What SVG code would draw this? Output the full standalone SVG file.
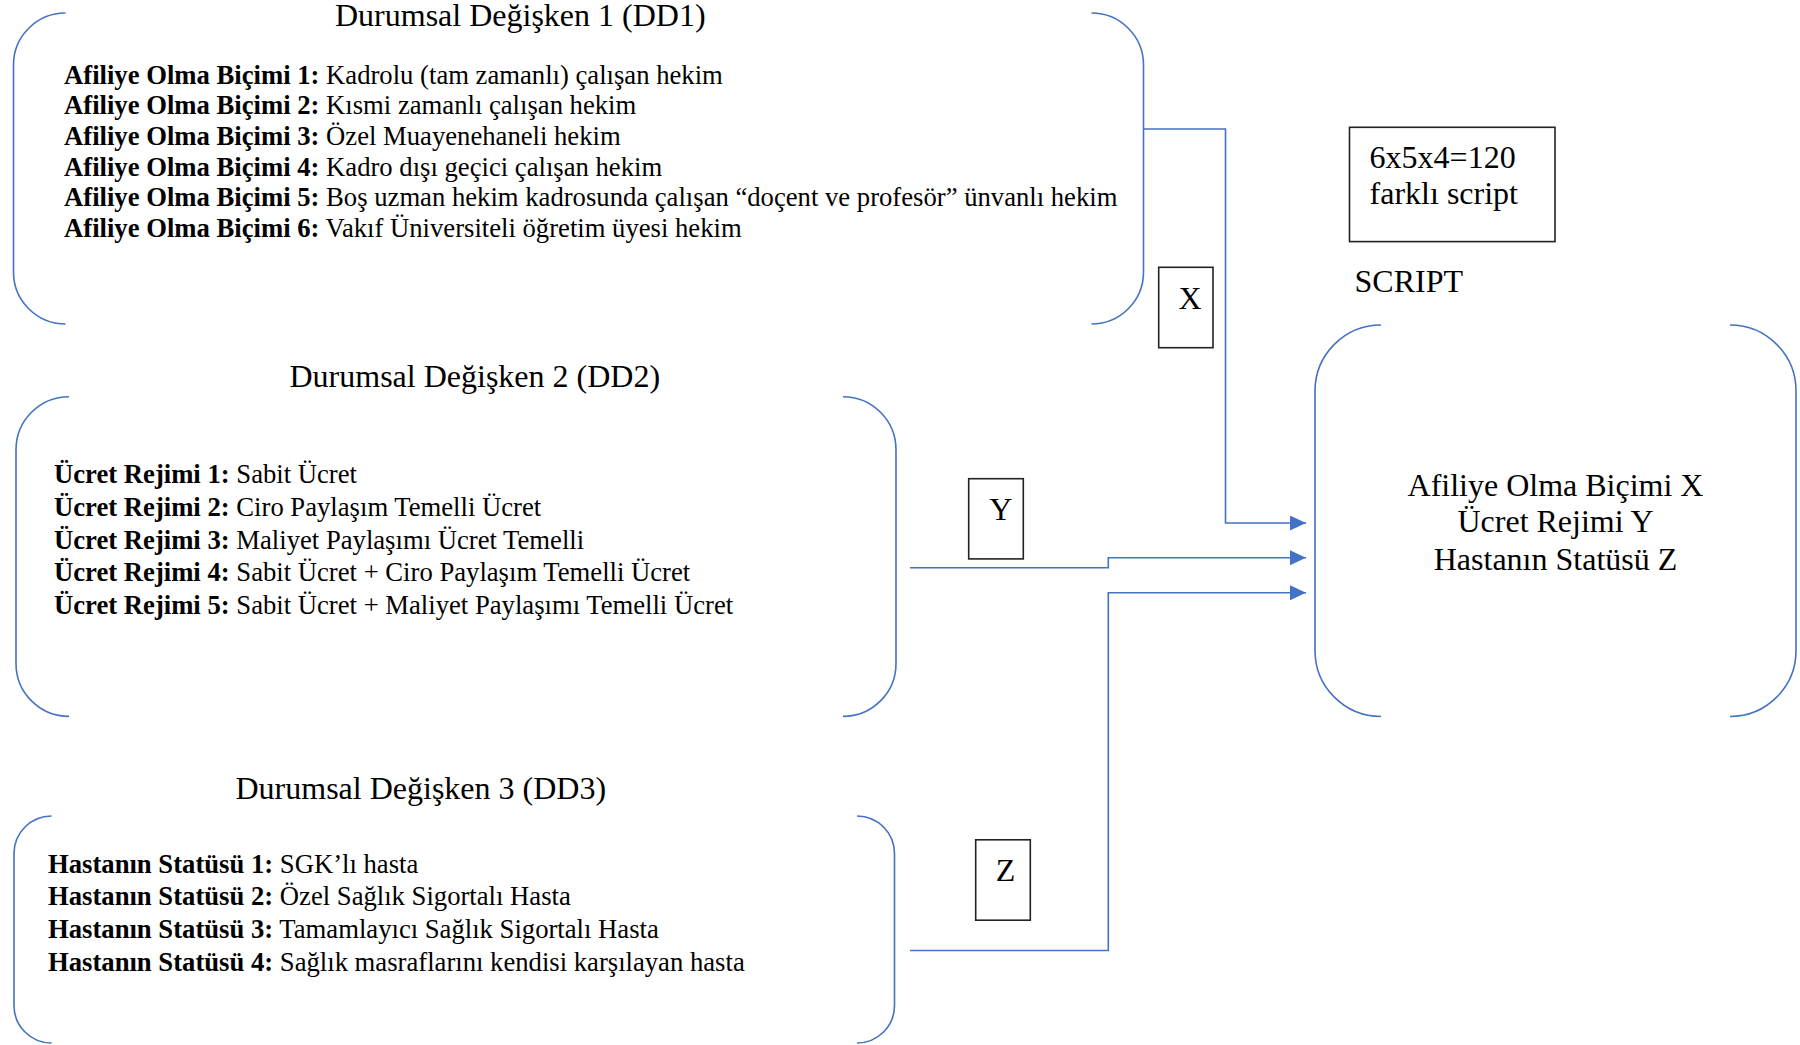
<svg xmlns="http://www.w3.org/2000/svg" width="1800" height="1045" viewBox="0 0 1800 1045">
<style>
.br{fill:none;stroke:#4472C4;stroke-width:1.6}
.con{fill:none;stroke:#4472C4;stroke-width:1.6}
.box{fill:#fff;stroke:#222;stroke-width:1.6}
.t{font-family:"Liberation Serif","Times New Roman",serif;fill:#000}
.big{font-size:32px}
.lst{font-size:26.67px}
.b{font-weight:bold}
</style>
<defs>
<marker id="arr" markerUnits="userSpaceOnUse" markerWidth="18" markerHeight="16" refX="16" refY="7.5" orient="auto">
<path d="M0,0 L16,7.5 L0,15 Z" fill="#4472C4"/>
</marker>
</defs>
<rect width="1800" height="1045" fill="#fff"/>

<g id="dd1">
<path class="br" d="M65.5,13 A52,52 0 0 0 13.5,65 V272 A52,52 0 0 0 65.5,324"/>
<path class="br" d="M1091.5,13 A52,52 0 0 1 1143.5,65 V272 A52,52 0 0 1 1091.5,324"/>
<text class="t big" x="335" y="26">Durumsal Değişken 1 (DD1)</text>
<text class="t lst" x="64" y="83.5"><tspan class="b">Afiliye Olma Biçimi 1:</tspan> Kadrolu (tam zamanlı) çalışan hekim</text>
<text class="t lst" x="64" y="114.2"><tspan class="b">Afiliye Olma Biçimi 2:</tspan> Kısmi zamanlı çalışan hekim</text>
<text class="t lst" x="64" y="144.9"><tspan class="b">Afiliye Olma Biçimi 3:</tspan> Özel Muayenehaneli hekim</text>
<text class="t lst" x="64" y="175.6"><tspan class="b">Afiliye Olma Biçimi 4:</tspan> Kadro dışı geçici çalışan hekim</text>
<text class="t lst" x="64" y="206.3"><tspan class="b">Afiliye Olma Biçimi 5:</tspan> Boş uzman hekim kadrosunda çalışan “doçent ve profesör” ünvanlı hekim</text>
<text class="t lst" x="64" y="237"><tspan class="b">Afiliye Olma Biçimi 6:</tspan> Vakıf Üniversiteli öğretim üyesi hekim</text>
</g>

<g id="dd2">
<path class="br" d="M69,396.7 A53,53 0 0 0 16,449.7 V663.4 A53,53 0 0 0 69,716.4"/>
<path class="br" d="M843,396.7 A53,53 0 0 1 896,449.7 V663.4 A53,53 0 0 1 843,716.4"/>
<text class="t big" x="289.5" y="387">Durumsal Değişken 2 (DD2)</text>
<text class="t lst" x="54" y="483.3"><tspan class="b">Ücret Rejimi 1:</tspan> Sabit Ücret</text>
<text class="t lst" x="54" y="515.9"><tspan class="b">Ücret Rejimi 2:</tspan> Ciro Paylaşım Temelli Ücret</text>
<text class="t lst" x="54" y="548.5"><tspan class="b">Ücret Rejimi 3:</tspan> Maliyet Paylaşımı Ücret Temelli</text>
<text class="t lst" x="54" y="581.1"><tspan class="b">Ücret Rejimi 4:</tspan> Sabit Ücret + Ciro Paylaşım Temelli Ücret</text>
<text class="t lst" x="54" y="613.7"><tspan class="b">Ücret Rejimi 5:</tspan> Sabit Ücret + Maliyet Paylaşımı Temelli Ücret</text>
</g>

<g id="dd3">
<path class="br" d="M51.5,816 A37.5,37.5 0 0 0 14,853.5 V1005.5 A37.5,37.5 0 0 0 51.5,1043"/>
<path class="br" d="M857,816 A37.5,37.5 0 0 1 894.5,853.5 V1005.5 A37.5,37.5 0 0 1 857,1043"/>
<text class="t big" x="235.5" y="798.6">Durumsal Değişken 3 (DD3)</text>
<text class="t lst" x="48" y="872.6"><tspan class="b">Hastanın Statüsü 1:</tspan> SGK’lı hasta</text>
<text class="t lst" x="48" y="905.3"><tspan class="b">Hastanın Statüsü 2:</tspan> Özel Sağlık Sigortalı Hasta</text>
<text class="t lst" x="48" y="938"><tspan class="b">Hastanın Statüsü 3:</tspan> Tamamlayıcı Sağlık Sigortalı Hasta</text>
<text class="t lst" x="48" y="970.7"><tspan class="b">Hastanın Statüsü 4:</tspan> Sağlık masraflarını kendisi karşılayan hasta</text>
</g>

<g id="script">
<path class="br" d="M1381,325 A66,66 0 0 0 1315,391 V650.5 A66,66 0 0 0 1381,716.5"/>
<path class="br" d="M1730,325 A66,66 0 0 1 1796,391 V650.5 A66,66 0 0 1 1730,716.5"/>
<text class="t big" x="1354.5" y="292">SCRIPT</text>
<text class="t big" x="1555.5" y="495.5" text-anchor="middle">Afiliye Olma Biçimi X</text>
<text class="t big" x="1555.5" y="532" text-anchor="middle">Ücret Rejimi Y</text>
<text class="t big" x="1555.5" y="569.8" text-anchor="middle">Hastanın Statüsü Z</text>
</g>

<g id="count">
<rect class="box" x="1349.5" y="127.3" width="205.5" height="114.3"/>
<text class="t big" x="1369.6" y="167.6">6x5x4=120</text>
<text class="t big" x="1369.6" y="204.3">farklı script</text>
</g>

<g id="connectors">
<path class="con" d="M1144,129 H1225.5 V523 H1306" marker-end="url(#arr)"/>
<path class="con" d="M910,567.7 H1108.3 V557.7 H1306" marker-end="url(#arr)"/>
<path class="con" d="M910,950.5 H1108.3 V592.7 H1306" marker-end="url(#arr)"/>
</g>

<g id="labelX">
<rect class="box" x="1158.7" y="267.3" width="54.3" height="80.4"/>
<text class="t big" x="1190" y="308.5" text-anchor="middle">X</text>
</g>
<g id="labelY">
<rect class="box" x="968.7" y="478.7" width="54.6" height="80.2"/>
<text class="t big" x="1000.8" y="519.5" text-anchor="middle">Y</text>
</g>
<g id="labelZ">
<rect class="box" x="975.7" y="839.8" width="54.6" height="80.4"/>
<text class="t big" x="1005.5" y="881" text-anchor="middle">Z</text>
</g>
</svg>
